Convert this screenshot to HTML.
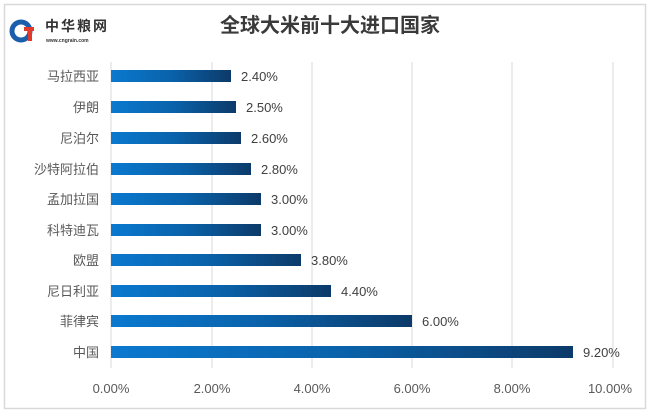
<!DOCTYPE html>
<html><head><meta charset="utf-8"><style>
body{margin:0;background:#fff;width:650px;height:413px;overflow:hidden;font-family:"Liberation Sans","Noto Sans CJK SC",sans-serif}
</style></head><body>
<svg width="650" height="413" xmlns="http://www.w3.org/2000/svg" font-family="'Liberation Sans','Noto Sans CJK SC',sans-serif">
<defs><linearGradient id="g" x1="0" x2="1" y1="0" y2="0"><stop offset="0" stop-color="#0a79cf"/><stop offset="0.5" stop-color="#0a62aa"/><stop offset="1" stop-color="#0c3a69"/></linearGradient></defs>
<rect x="4.5" y="4.5" width="641" height="404" fill="#fff" stroke="#d9d9d9" stroke-width="1.5"/>
<g stroke="#d9d9d9" stroke-width="1">
<line x1="212" y1="62" x2="212" y2="368"/><line x1="312" y1="62" x2="312" y2="368"/><line x1="412" y1="62" x2="412" y2="368"/><line x1="512" y1="62" x2="512" y2="368"/><line x1="613" y1="62" x2="613" y2="368"/>
<line x1="111" y1="62" x2="111" y2="368"/>
</g>
<!-- logo -->
<circle cx="21" cy="31" r="9" fill="none" stroke="#1b5eaa" stroke-width="5"/>
<rect x="24" y="27" width="10" height="4" fill="#e23a2a"/><rect x="28" y="27" width="4" height="14" fill="#e23a2a"/>
<text x="45" y="31" font-size="14" font-weight="bold" fill="#333" letter-spacing="2">中华粮网</text>
<text x="46" y="42" font-size="5" font-weight="bold" fill="#333">www.cngrain.com</text>
<text x="330" y="32" font-size="20" font-weight="bold" fill="#3a3a3a" text-anchor="middle">全球大米前十大进口国家</text>
<g font-size="13" fill="#595959">
<g text-anchor="end">
<text x="99" y="81">马拉西亚</text><text x="99" y="112">伊朗</text><text x="99" y="143">尼泊尔</text><text x="99" y="174">沙特阿拉伯</text><text x="99" y="204">孟加拉国</text><text x="99" y="235">科特迪瓦</text><text x="99" y="265">欧盟</text><text x="99" y="296">尼日利亚</text><text x="99" y="326">菲律宾</text><text x="99" y="357">中国</text>
</g>
<rect x="111" y="70" width="120" height="12" fill="url(#g)"/><text x="241" y="81" fill="#404040">2.40%</text>
<rect x="111" y="101" width="125" height="12" fill="url(#g)"/><text x="246" y="112" fill="#404040">2.50%</text>
<rect x="111" y="132" width="130" height="12" fill="url(#g)"/><text x="251" y="143" fill="#404040">2.60%</text>
<rect x="111" y="163" width="140" height="12" fill="url(#g)"/><text x="261" y="174" fill="#404040">2.80%</text>
<rect x="111" y="193" width="150" height="12" fill="url(#g)"/><text x="271" y="204" fill="#404040">3.00%</text>
<rect x="111" y="224" width="150" height="12" fill="url(#g)"/><text x="271" y="235" fill="#404040">3.00%</text>
<rect x="111" y="254" width="190" height="12" fill="url(#g)"/><text x="311" y="265" fill="#404040">3.80%</text>
<rect x="111" y="285" width="220" height="12" fill="url(#g)"/><text x="341" y="296" fill="#404040">4.40%</text>
<rect x="111" y="315" width="301" height="12" fill="url(#g)"/><text x="422" y="326" fill="#404040">6.00%</text>
<rect x="111" y="346" width="462" height="12" fill="url(#g)"/><text x="583" y="357" fill="#404040">9.20%</text>
<g text-anchor="middle">
<text x="111" y="393">0.00%</text><text x="212" y="393">2.00%</text><text x="312" y="393">4.00%</text><text x="412" y="393">6.00%</text><text x="512" y="393">8.00%</text><text x="610" y="393">10.00%</text>
</g>
</g>
</svg>
</body></html>
